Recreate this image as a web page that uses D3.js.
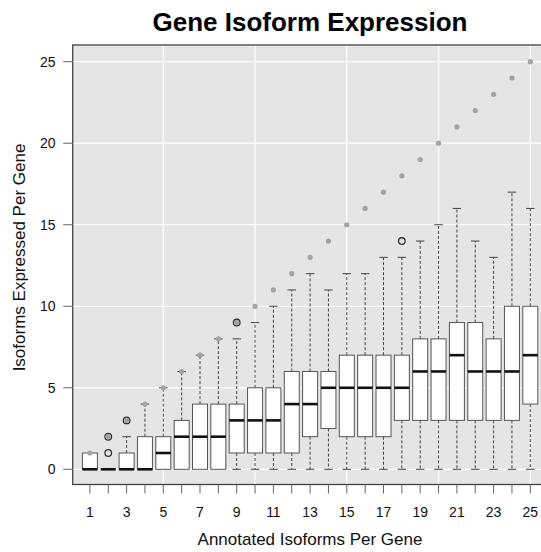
<!DOCTYPE html>
<html><head><meta charset="utf-8">
<script src="https://cdn.jsdelivr.net/npm/d3@7"></script>
<style>body{margin:0;background:#fff}svg{display:block;font-family:"Liberation Sans",Arial,sans-serif}</style>
</head><body><svg id="c" width="541" height="552"></svg>
<script>
const categories = d3.range(1, 26);
const q1 = [0,0,0,0,0,0,0,0,1,1,1,1,2,2.5,2,2,2,3,3,3,3,3,3,3,4];
const medians = [0,0,0,0,1,2,2,2,3,3,3,4,4,5,5,5,5,5,6,6,7,6,6,6,7];
const q3 = [1,0,1,2,2,3,4,4,4,5,5,6,6,6,7,7,7,7,8,8,9,9,8,10,10];
const whiskerLo = [0,0,0,0,0,0,0,0,0,0,0,0,0,0,0,0,0,0,0,0,0,0,0,0,0];
const whiskerHi = [1,0,2,4,5,6,7,8,8,9,10,11,12,11,12,12,13,13,14,15,16,14,13,17,16];
const outliers = [[2,1],[2,2],[3,3],[9,9],[18,14]];
const maxPossible = categories.map(c => c); // annotated count = upper bound
const yTicks = [0,5,10,15,20,25];
const xLabelTicks = [1,3,5,7,9,11,13,15,17,19,21,23,25];
const gridX = [5,10,15,20,25];

const svg = d3.select("#c");
const L = 72.7, R = 560, T = 45, B = 484.5;
const x = d3.scaleLinear().domain([1,25]).range([89.9,530.3]);
const y = d3.scaleLinear().domain([0,25]).range([469.3,61.7]);
const bw = 15, cw = 8.5;

svg.append("rect").attr("x",L).attr("y",T).attr("width",R-L).attr("height",B-T).attr("fill","#e5e5e5");
const g = svg.append("g");
g.selectAll(".gy").data(yTicks).join("line").attr("x1",L).attr("x2",R).attr("y1",d=>y(d)).attr("y2",d=>y(d)).attr("stroke","#fff").attr("stroke-width",1.2);
g.selectAll(".gx").data(gridX).join("line").attr("x1",d=>x(d)).attr("x2",d=>x(d)).attr("y1",T).attr("y2",B).attr("stroke","#fff").attr("stroke-width",1.2);

const data = categories.map((c,i)=>({c,q1:q1[i],med:medians[i],q3:q3[i],lo:whiskerLo[i],hi:whiskerHi[i]}));
const bx = svg.append("g");
data.forEach(d=>{
  const cx = x(d.c);
  if (d.hi > d.q3) {
    bx.append("line").attr("x1",cx).attr("x2",cx).attr("y1",y(d.q3)).attr("y2",y(d.hi)).attr("stroke","#444").attr("stroke-dasharray","3,2");
    bx.append("line").attr("x1",cx-cw/2).attr("x2",cx+cw/2).attr("y1",y(d.hi)).attr("y2",y(d.hi)).attr("stroke","#444");
  }
  if (d.lo < d.q1) {
    bx.append("line").attr("x1",cx).attr("x2",cx).attr("y1",y(d.q1)).attr("y2",y(d.lo)).attr("stroke","#444").attr("stroke-dasharray","3,2");
    bx.append("line").attr("x1",cx-cw/2).attr("x2",cx+cw/2).attr("y1",y(d.lo)).attr("y2",y(d.lo)).attr("stroke","#444");
  }
  bx.append("rect").attr("x",cx-bw/2).attr("y",y(d.q3)).attr("width",bw).attr("height",Math.max(0,y(d.q1)-y(d.q3))).attr("fill","#fff").attr("stroke","#555").attr("stroke-width",1);
  bx.append("line").attr("x1",cx-bw/2).attr("x2",cx+bw/2).attr("y1",y(d.med)).attr("y2",y(d.med)).attr("stroke","#111").attr("stroke-width",2.6);
});
svg.append("g").selectAll("circle").data(outliers).join("circle")
  .attr("cx",d=>x(d[0])).attr("cy",d=>y(d[1])).attr("r",3.3).attr("fill","none").attr("stroke","#333").attr("stroke-width",1.3);
svg.append("g").selectAll("circle").data(categories).join("circle")
  .attr("cx",d=>x(d)).attr("cy",(d,i)=>y(maxPossible[i])).attr("r",2.6).attr("fill","#a3a3a3");

// border
svg.append("rect").attr("x",L).attr("y",T).attr("width",R-L).attr("height",B-T).attr("fill","none").attr("stroke","#444").attr("stroke-width",1.3);

// axes
const xa = svg.append("g");
xa.selectAll("line").data(categories).join("line").attr("x1",d=>x(d)).attr("x2",d=>x(d)).attr("y1",B).attr("y2",B+9).attr("stroke","#666");
xa.selectAll("text").data(xLabelTicks).join("text").attr("x",d=>x(d)).attr("y",516.5).attr("text-anchor","middle").attr("font-size",14).attr("fill","#111").text(d=>d);
const ya = svg.append("g");
ya.selectAll("line").data(yTicks).join("line").attr("x1",L-9.5).attr("x2",L).attr("y1",d=>y(d)).attr("y2",d=>y(d)).attr("stroke","#666");
ya.selectAll("text").data(yTicks).join("text").attr("x",55.5).attr("y",d=>y(d)+5).attr("text-anchor","end").attr("font-size",14).attr("fill","#111").text(d=>d);

svg.append("text").attr("x",310).attr("y",30.5).attr("text-anchor","middle").attr("font-size",26).attr("font-weight","bold").attr("fill","#000").text("Gene Isoform Expression");
svg.append("text").attr("x",310).attr("y",545).attr("text-anchor","middle").attr("font-size",17).attr("fill","#111").text("Annotated Isoforms Per Gene");
svg.append("text").attr("transform","translate(24.5,257.5) rotate(-90)").attr("text-anchor","middle").attr("font-size",17).attr("fill","#111").text("Isoforms Expressed Per Gene");
</script></body></html>
